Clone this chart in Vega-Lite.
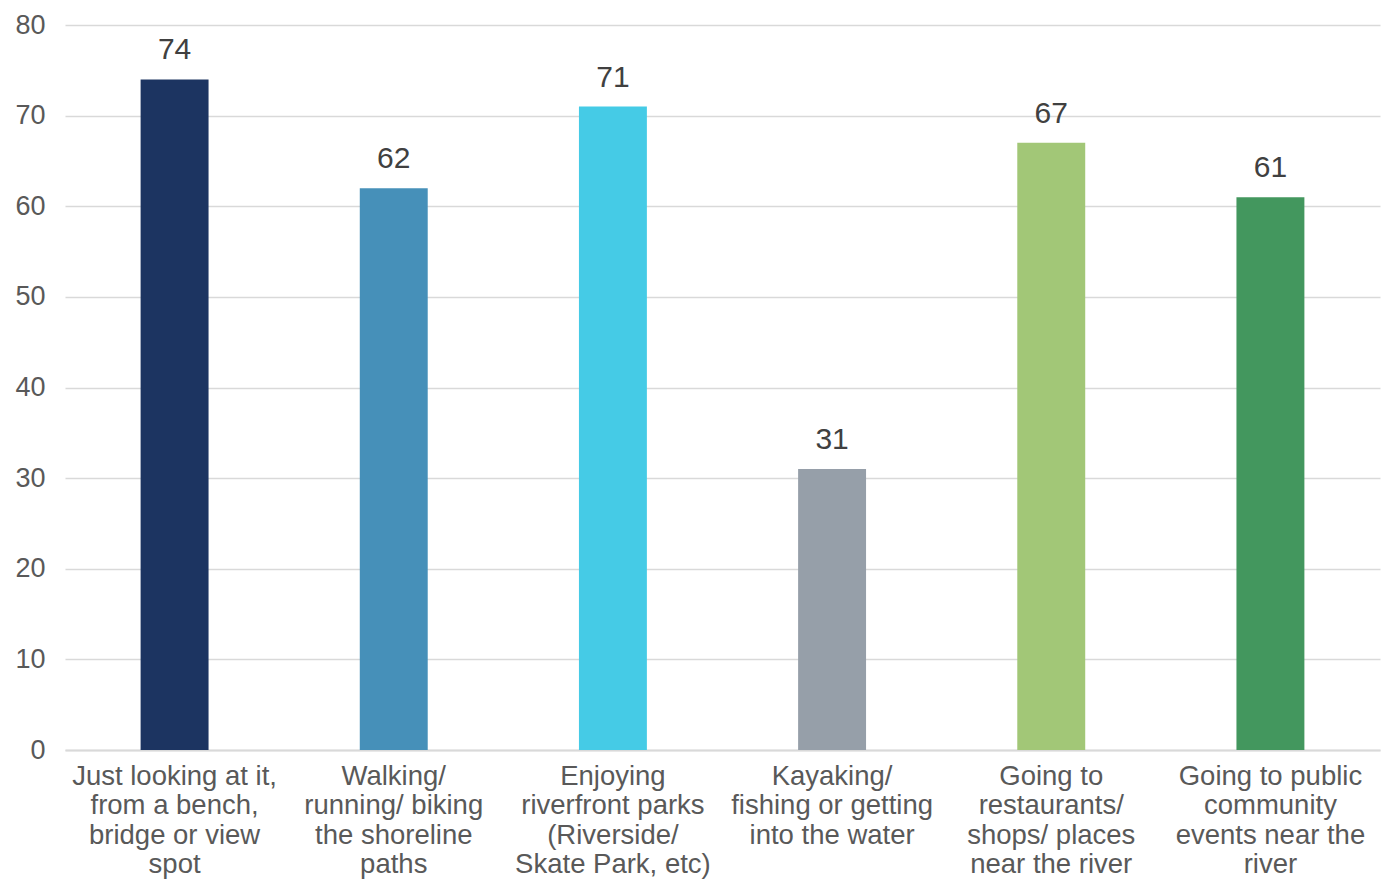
{
  "$schema": "https://vega.github.io/schema/vega-lite/v6.json",
  "width": 1315,
  "height": 725,
  "autosize": {"type": "none"},
  "padding": {"left": 65, "top": 25, "right": 9, "bottom": 130},
  "background": "white",
  "config": {
    "view": {"stroke": null},
    "font": "Liberation Sans"
  },
  "data": {
    "values": [
      {"activity": "Just looking at it,|from a bench,|bridge or view|spot", "value": 74, "order": 1, "color": "#1C3461"},
      {"activity": "Walking/|running/ biking|the shoreline|paths", "value": 62, "order": 2, "color": "#4690B9"},
      {"activity": "Enjoying|riverfront parks|(Riverside/|Skate Park, etc)", "value": 71, "order": 3, "color": "#45CBE6"},
      {"activity": "Kayaking/|fishing or getting|into the water", "value": 31, "order": 4, "color": "#969FA9"},
      {"activity": "Going to|restaurants/|shops/ places|near the river", "value": 67, "order": 5, "color": "#A2C777"},
      {"activity": "Going to public|community|events near the|river", "value": 61, "order": 6, "color": "#43975E"}
    ]
  },
  "encoding": {
    "x": {
      "field": "activity",
      "type": "nominal",
      "sort": {"field": "order"},
      "scale": {"paddingInner": 0.69, "paddingOuter": 0.345},
      "axis": {
        "title": null,
        "labelAngle": 0,
        "labelExpr": "split(datum.label, '|')",
        "labelFontSize": 27.5,
        "labelColor": "#595959",
        "labelLineHeight": 29.5,
        "labelBaseline": "top",
        "labelPadding": 12,
        "labelLimit": 400,
        "ticks": false,
        "domain": true,
        "domainColor": "#d9d9d9",
        "domainWidth": 2,
        "grid": false
      }
    },
    "y": {
      "field": "value",
      "type": "quantitative",
      "scale": {"domain": [0, 80]},
      "axis": {
        "title": null,
        "values": [0, 10, 20, 30, 40, 50, 60, 70, 80],
        "labelFontSize": 27,
        "labelColor": "#595959",
        "labelPadding": 20,
        "ticks": false,
        "domain": false,
        "grid": true,
        "gridColor": "#d9d9d9",
        "gridWidth": 1.5
      }
    }
  },
  "layer": [
    {
      "mark": {"type": "bar"},
      "encoding": {
        "color": {"field": "color", "type": "nominal", "scale": null, "legend": null}
      }
    },
    {
      "mark": {"type": "text", "baseline": "bottom", "dy": -14, "fontSize": 30, "color": "#404040"},
      "encoding": {
        "text": {"field": "value", "type": "quantitative"}
      }
    }
  ]
}
